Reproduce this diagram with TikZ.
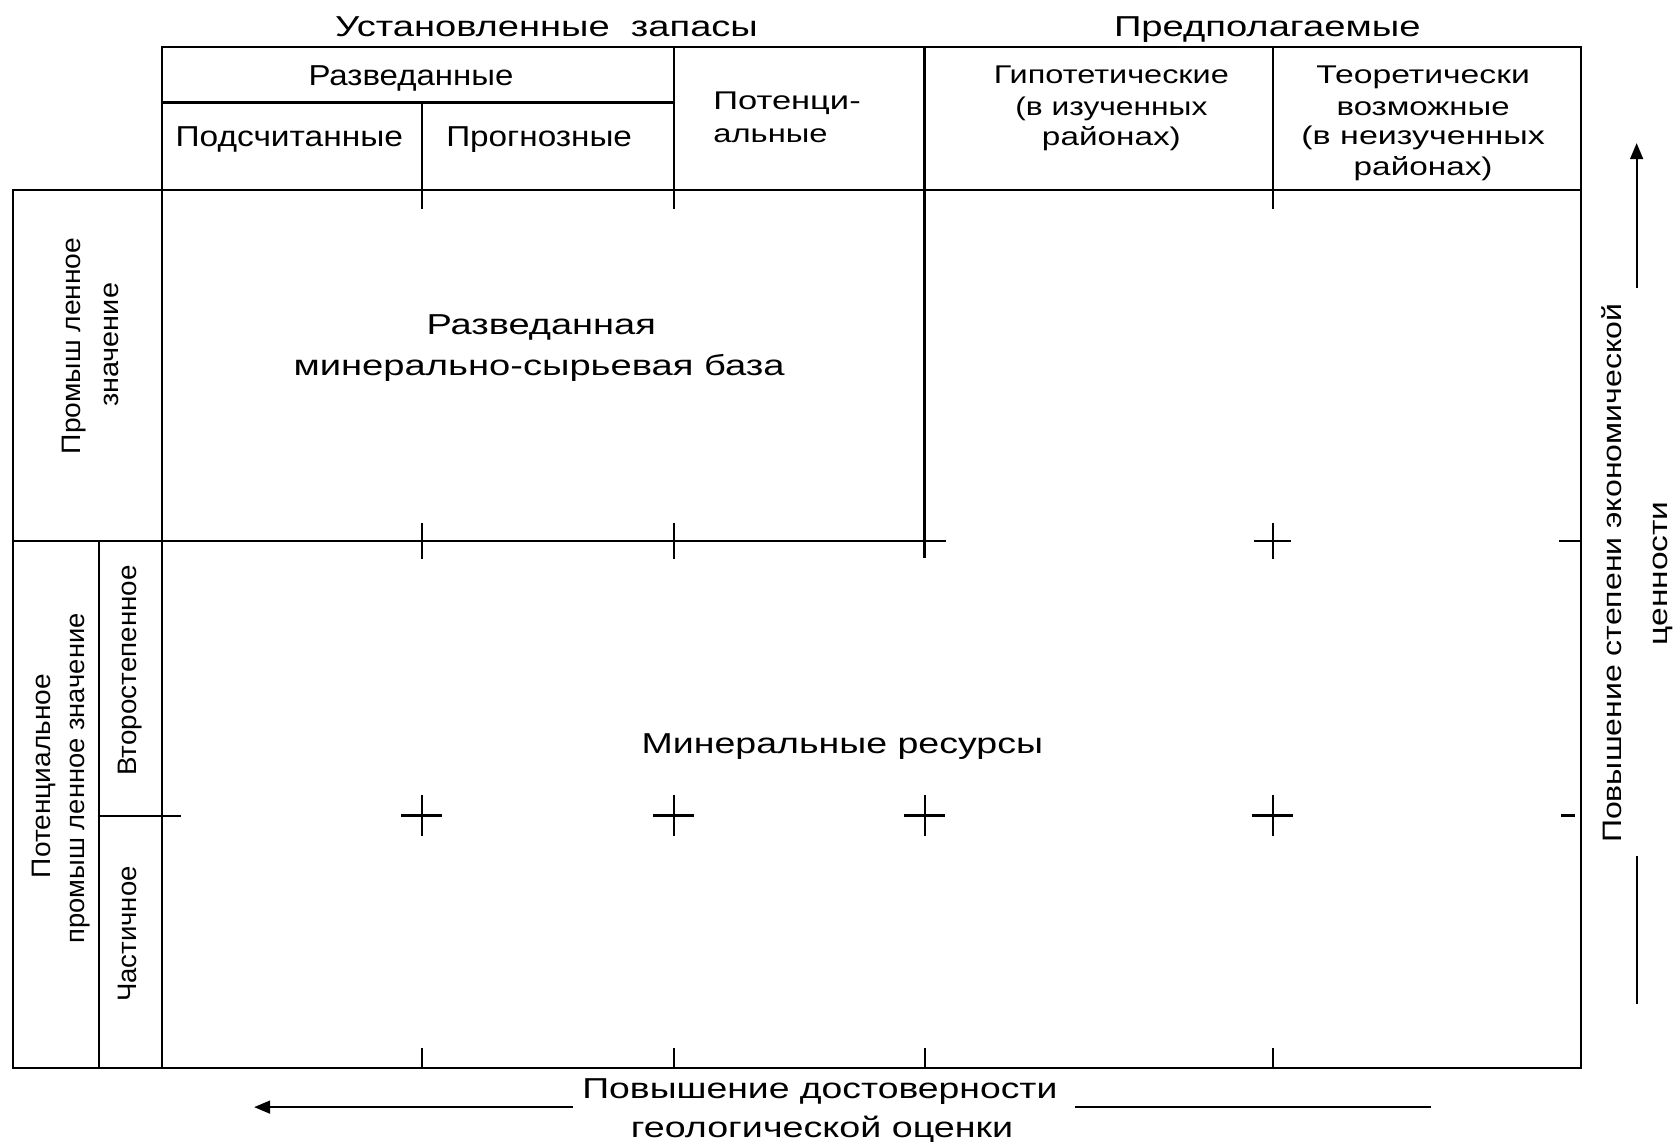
\documentclass[tikz,border=0pt]{standalone}
\usepackage{fontspec}
\setmainfont{Liberation Sans}
\usepackage{graphicx}
\usetikzlibrary{arrows.meta}
\newcommand\fitw[2]{\resizebox{#1pt}{\height}{#2}}
\tikzset{
  mainlbl/.style={font=\fontsize{27}{32}\selectfont, inner sep=0pt, text height=19.3pt, text depth=0pt},
  hdrlbl/.style={font=\fontsize{24}{30}\selectfont, inner sep=0pt, text height=17.2pt, text depth=0pt},
  rotlbl/.style={font=\fontsize{25}{30}\selectfont, inner sep=0pt, text height=17.9pt, text depth=0pt, rotate=90},
  frame/.style={line width=2pt},
  tickline/.style={line width=1.8pt},
  plusbar/.style={line width=2.4pt},
  arr/.style={line width=2pt, -{Triangle[length=15pt,width=12pt]}},
}
\begin{document}
\begin{tikzpicture}[x=1pt,y=-1pt]
\useasboundingbox (0,0) rectangle (1568,1069);
\fill[white] (0,0) rectangle (1568,1069);

% frame
\draw[frame] (152,44) rectangle (1481,1000);
\draw[frame] (12,178) rectangle (1481,1000);
\draw[frame] (152,96) -- (631,96);
\draw[frame] (395,96) -- (395,196);
\draw[frame] (631,44) -- (631,196);
\draw[frame] (866,44) -- (866,523);
\draw[frame] (1192,44) -- (1192,196);
\draw[frame] (12,507) -- (886,507);
\draw[frame] (93,507) -- (93,1000);
\draw[frame] (93,764) -- (170,764);

% ticks on line 507
\draw[tickline] (395,490) -- (395,524);
\draw[tickline] (631,490) -- (631,524);
\draw[tickline] (1175,507) -- (1209,507);
\draw[tickline] (1192,490) -- (1192,524);
\draw[tickline] (1460,507) -- (1481,507);

% pluses on line 764
\foreach \px in {395,631,866,1192}{
  \draw[plusbar] (\px-19,764) -- (\px+19,764);
  \draw[tickline] (\px,745) -- (\px,783);
}
\draw[plusbar] (1462,764) -- (1475,764);

% bottom ticks
\foreach \px in {395,631,866,1192}{
  \draw[tickline] (\px,982) -- (\px,1000);
}

% header texts
\node[mainlbl] (ustz) at (512,25) {\fitw{396}{Установленные\ \ запасы}};
\node[mainlbl] (pred) at (1187,25) {\fitw{287}{Предполагаемые}};
\node[mainlbl] (razv) at (385,70) {\fitw{192}{Разведанные}};
\node[mainlbl] (podsch) at (271,128) {\fitw{213}{Подсчитанные}};
\node[mainlbl] (progn) at (505,128) {\fitw{174}{Прогнозные}};
\node[hdrlbl, anchor=west] (pot1) at (668,94) {\fitw{138}{Потенци-}};
\node[hdrlbl, anchor=west] (pot2) at (668,125) {\fitw{107}{альные}};
\node[hdrlbl] (gip1) at (1041,70) {\fitw{220}{Гипотетические}};
\node[hdrlbl] (gip2) at (1041,100) {\fitw{180}{(в изученных}};
\node[hdrlbl] (gip3) at (1041,128) {\fitw{130}{районах)}};
\node[hdrlbl] (teo1) at (1333,70) {\fitw{200}{Теоретически}};
\node[hdrlbl] (teo2) at (1333,100) {\fitw{162}{возможные}};
\node[hdrlbl] (teo3) at (1333,127) {\fitw{228}{(в неизученных}};
\node[hdrlbl] (teo4) at (1333,156) {\fitw{130}{районах)}};

% body texts
\node[mainlbl] (rb1) at (507,304) {\fitw{215}{Разведанная}};
\node[mainlbl] (rb2) at (505,342) {\fitw{460}{минерально-сырьевая база}};
\node[mainlbl] (minres) at (789,696) {\fitw{376}{Минеральные ресурсы}};

% left rotated texts
\node[rotlbl] (prom1) at (66,324) {\fitw{203}{Промыш ленное}};
\node[rotlbl] (prom2) at (102,323) {\fitw{116}{значение}};
\node[rotlbl] (potz1) at (38,727) {\fitw{191}{Потенциальное}};
\node[rotlbl] (potz2) at (70,729) {\fitw{309}{промыш ленное значение}};
\node[rotlbl] (vtor) at (119,628) {\fitw{197}{Второстепенное}};
\node[rotlbl] (chast) at (119,875) {\fitw{127}{Частичное}};

% right axis
\node[rotlbl] (ek1) at (1510,537) {\fitw{505}{Повышение степени экономической}};
\node[rotlbl] (ek2) at (1553,537) {\fitw{135}{ценности}};
\coordinate (ra0) at (1533,270);
\coordinate (ra1) at (1533,134);
\coordinate (rb0) at (1533,802);
\coordinate (rbb) at (1533,940);
\draw[arr] (ra0) -- (ra1);
\draw[line width=2pt] (rb0) -- (rbb);

% bottom axis
\node[mainlbl] (dost1) at (768,1019) {\fitw{445}{Повышение достоверности}};
\node[mainlbl] (dost2) at (770,1056) {\fitw{358}{геологической оценки}};
\coordinate (ba0) at (537,1037);
\coordinate (ba1) at (238,1037);
\coordinate (bb0) at (1007,1037);
\coordinate (bb1) at (1340,1037);
\draw[arr] (ba0) -- (ba1);
\draw[line width=2pt] (bb0) -- (bb1);
\end{tikzpicture}
\end{document}
